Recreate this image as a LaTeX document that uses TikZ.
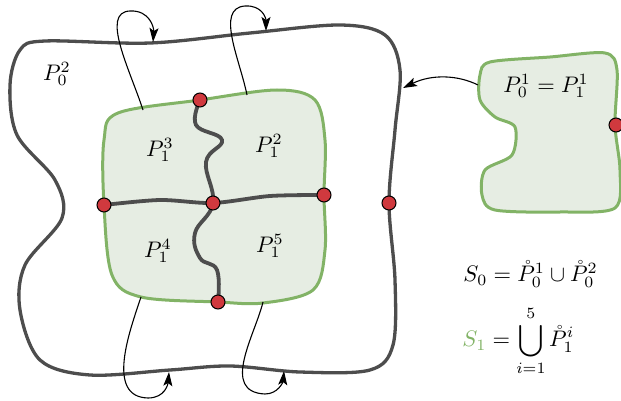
\documentclass[tikz,border=0pt]{standalone}
\usepackage{amsmath}
\usetikzlibrary{arrows.meta}
\definecolor{darkline}{HTML}{4D4D4D}
\definecolor{greenline}{HTML}{82B366}
\definecolor{greenfill}{HTML}{E6EDE3}
\definecolor{reddot}{HTML}{D0393E}
\tikzset{
  outerline/.style={draw=darkline, line width=3.3pt, line join=round},
  greenshape/.style={draw=greenline, fill=greenfill, line width=3pt, line join=round},
  cutline/.style={draw=darkline, line width=3.8pt, line cap=round},
  maparrow/.style={draw=black, line width=1.1pt, -{Stealth[length=14pt,width=9pt,inset=3pt]}},
  vertexdot/.style={circle, draw=black, fill=reddot, line width=1pt, minimum size=14pt, inner sep=0pt},
  lbl/.style={inner sep=0pt, scale=2.25}
}
\begin{document}
\begin{tikzpicture}[x=1pt,y=-1pt]
\useasboundingbox (0,0) rectangle (621,401);
% outer region P_0^2
\draw[outerline] plot[smooth cycle, tension=0.55] coordinates {
 (45,41) (150,43) (250,33) (340,25) (385,35) (400,70) (395,130) (389,203)
 (395,280) (393,345) (370,370) (300,372) (230,366) (170,370) (90,375)
 (40,360) (20,310) (25,265) (62,218) (55,180) (17,135) (10,85) (20,50)};
% inner green region
\path[greenshape] plot[smooth cycle, tension=0.55] coordinates {
 (118,113) (200,100) (277,90) (315,100) (325,140) (324,195) (325,250)
 (313,290) (263,303) (218,302) (141,297) (112,275) (104,205) (104,140)};
% cut lines
\draw[cutline] plot[smooth, tension=0.7] coordinates {
 (200,100) (196,125) (222,140) (206,162) (213,203) (195,233) (200,258) (217,270) (218,302)};
\draw[cutline] plot[smooth, tension=0.5] coordinates {
 (104,205) (160,200) (213,203) (270,196) (324,195)};
% right green region
\path[greenshape] plot[smooth cycle, tension=0.5] coordinates {
 (490,62) (550,57) (605,53) (617,70) (615,125) (620,170) (615,208)
 (560,212) (495,210) (482,195) (485,170) (512,155) (515,127) (495,117)
 (480,100) (480,75)};
% coordinates for arrows
\coordinate (a1s) at (143,110); \coordinate (a1e) at (153,42);
\coordinate (a2s) at (247,95);  \coordinate (a2e) at (266,31);
\coordinate (a3s) at (141,297); \coordinate (a3e) at (169,372);
\coordinate (a4s) at (263,302); \coordinate (a4e) at (284,371);
\coordinate (a5s) at (478,85);  \coordinate (a5e) at (403,88);
\draw[maparrow] (a1s) .. controls (130,70) and (100,12) .. (130,11) .. controls (150,10) and (154,28) .. (a1e);
\draw[maparrow] (a2s) .. controls (240,60) and (215,8) .. (245,6) .. controls (262,5) and (266,18) .. (a2e);
\draw[maparrow] (a3s) .. controls (130,330) and (105,397) .. (148,398) .. controls (165,398) and (168,384) .. (a3e);
\draw[maparrow] (a4s) .. controls (255,335) and (220,392) .. (265,394) .. controls (278,394) and (283,382) .. (a4e);
\draw[maparrow] (a5s) .. controls (458,75) and (432,74) .. (a5e);
% vertices
\node[vertexdot] (v1) at (200,100) {};
\node[vertexdot] (v2) at (104,205) {};
\node[vertexdot] (v3) at (213,203) {};
\node[vertexdot] (v4) at (324,195) {};
\node[vertexdot] (v5) at (218,302) {};
\node[vertexdot] (v6) at (389,203) {};
\node[vertexdot] (v7) at (616,125) {};
% labels
\node[lbl] (t1) at (57,74) {$P_0^2$};
\node[lbl] (t2) at (160,150) {$P_1^3$};
\node[lbl] (t3) at (269,146) {$P_1^2$};
\node[lbl] (t4) at (158,251) {$P_1^4$};
\node[lbl] (t5) at (270,246) {$P_1^5$};
\node[lbl] (t6) at (546,86) {$P_0^1 = P_1^1$};
\node[lbl, anchor=west] (t7) at (463,274) {$S_0 = \mathring{P}_0^1 \cup \mathring{P}_0^2$};
\node[lbl, anchor=west] (t8) at (462,341) {$\displaystyle {\color{greenline}S_1} = \bigcup_{i=1}^{5} \mathring{P}_1^i$};
\end{tikzpicture}
\end{document}
